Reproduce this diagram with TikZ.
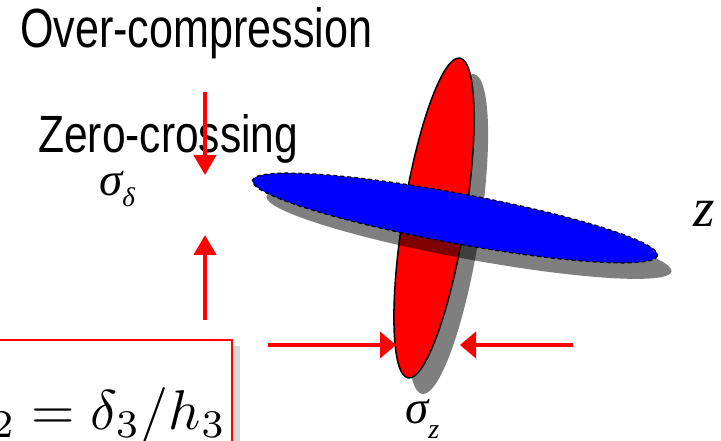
\documentclass[tikz,border=0pt]{standalone}
\usepackage[no-math]{fontspec}
\setmainfont{Liberation Sans}
\newfontfamily\tsi{Liberation Serif}
\usetikzlibrary{arrows.meta}
\begin{document}
\begin{tikzpicture}[x=1pt,y=-1pt,
  redarrow/.style={draw=red, line width=4.5pt, -{Triangle[length=20pt,width=22pt]}},
  hredarrow/.style={draw=red, line width=4.5pt, -{Triangle[length=16pt,width=26pt]}},
  shadowfill/.style={fill=black, fill opacity=0.5},
  lbl/.style={inner sep=0pt, anchor=base west}]
\useasboundingbox (0,0) rectangle (721,441);
\begin{scope}
\clip (0,0) rectangle (721,441);
% ellipses
\fill[shadowfill, rotate around={80.8:(448,234)}] (448,234) ellipse [x radius=162, y radius=31];
\filldraw[fill=red, draw=black, line width=1.5pt, rotate around={80.8:(434,218)}] (434,218) ellipse [x radius=162, y radius=31];
\fill[shadowfill, rotate around={-10.5:(469,234)}] (469,234) ellipse [x radius=206, y radius=25];
\filldraw[fill=blue, draw=black, line width=1.3pt, dash pattern=on 4pt off 3pt, rotate around={-10.5:(455,218)}] (455,218) ellipse [x radius=206, y radius=25];
% formula box
\fill[gray!30] (233,346) rectangle (240,445);
\draw[red, line width=2pt, fill=white] (-10,340) rectangle (232,450);
\node[lbl] (formula) at (-9,429) {\scalebox{5.6}{${}_2=\delta_3/h_3$}};
\end{scope}
% texts
\node[lbl] (over) at (20,48) {\resizebox{352pt}{40pt}{Over-compression}};
\node[lbl] (zero) at (38,153) {\resizebox{260pt}{38pt}{Zero-crossing}};
\node[lbl] (sd) at (99,196) {\tsi\itshape\fontsize{47}{50}\selectfont σ\hspace{0pt}\raisebox{-11pt}{\fontsize{27}{30}\selectfont δ}};
\node[lbl] (sz) at (405,423) {\tsi\itshape\fontsize{47}{50}\selectfont σ\hspace{0pt}\raisebox{-15pt}{\fontsize{28}{30}\selectfont z}};
\node[lbl] (z) at (693,227) {\tsi\itshape\fontsize{55}{58}\selectfont z};
% arrows
\coordinate (a1s) at (205,92);  \coordinate (a1e) at (205,175);
\coordinate (a2s) at (205,320); \coordinate (a2e) at (205,235);
\coordinate (a3s) at (268,345); \coordinate (a3e) at (396,345);
\coordinate (a4s) at (573,345); \coordinate (a4e) at (460,345);
\draw[redarrow] (a1s) -- (a1e);
\draw[redarrow] (a2s) -- (a2e);
\draw[hredarrow] (a3s) -- (a3e);
\draw[hredarrow] (a4s) -- (a4e);
\end{tikzpicture}
\end{document}
